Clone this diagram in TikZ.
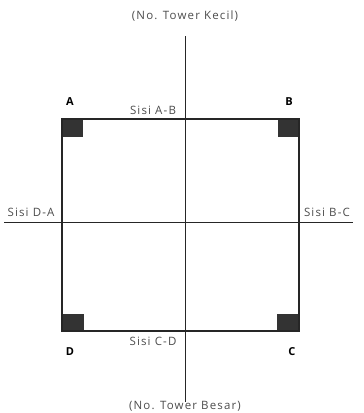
\documentclass[tikz,border=0pt]{standalone}
\usepackage{fontspec}
\setmainfont{Open Sans}
\newfontfamily\lblfont[LetterSpace=10]{Open Sans}
\begin{document}
\begin{tikzpicture}[x=1pt,y=-1pt,
  lbl/.style={font=\lblfont\fontsize{11.5}{12}\selectfont, text=black!70, inner sep=0pt},
  corner/.style={font=\fontsize{11}{12}\selectfont\bfseries, inner sep=0pt},
  pad/.style={fill=black!80, draw=none},
  axis/.style={line width=0.8pt, black!85},
  side/.style={line width=1.6pt, black!85}]
\useasboundingbox (0,0) rectangle (364,413);
\coordinate (tl) at (62,119);
\coordinate (tr) at (299,119);
\coordinate (br) at (299,331);
\coordinate (bl) at (62,331);
\coordinate (vt) at (185,36);
\coordinate (vb) at (185,402);
\coordinate (hl) at (4,222);
\coordinate (hr) at (353,222);
\draw[axis] (vt) -- (vb);
\draw[axis] (hl) -- (hr);
\fill[pad] (62,119) rectangle (83,137);
\fill[pad] (278,119) rectangle (299,137);
\fill[pad] (62,314) rectangle (84,331);
\fill[pad] (277,314) rectangle (299,331);
\draw[side] (tl) -- (tr) -- (br) -- (bl) -- cycle;
\node[corner] (A) at (70,102) {A};
\node[corner] (B) at (289,102) {B};
\node[corner] (D) at (70,352) {D};
\node[corner] (C) at (292,352) {C};
\node[lbl] (sab) at (153,110) {Sisi A-B};
\node[lbl] (scd) at (153,341) {Sisi C-D};
\node[lbl] (sda) at (31,212) {Sisi D-A};
\node[lbl] (sbc) at (327,212) {Sisi B-C};
\node[lbl] (top) at (185,16) {(No. Tower Kecil)};
\node[lbl] (bot) at (185,406) {(No. Tower Besar)};
\end{tikzpicture}
\end{document}
